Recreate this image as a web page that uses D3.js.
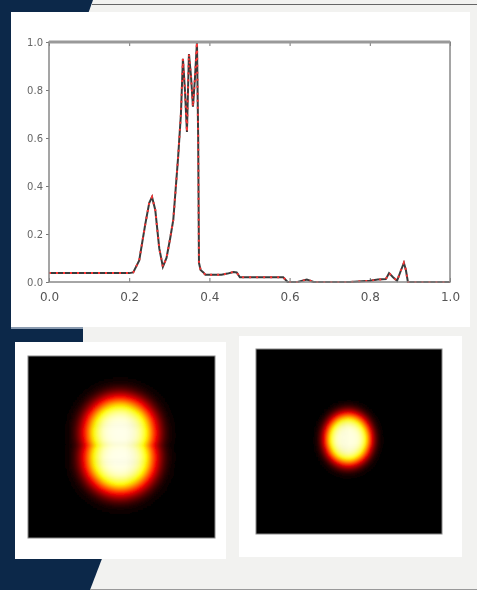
<!DOCTYPE html>
<html>
<head>
<meta charset="utf-8">
<script src="https://cdn.jsdelivr.net/npm/d3@7"></script>
<style>
  html, body { margin: 0; padding: 0; background: #f2f2f0; }
  svg { display: block; }
</style>
</head>
<body>
<div id="main-frame"></div>
<script>
// spectrum trace (x in 0..1, y in 0..1)
var traceX = [0.00, 0.05, 0.10, 0.15, 0.20, 0.21, 0.225, 0.24, 0.25, 0.257, 0.265, 0.275, 0.284, 0.293, 0.302,
              0.31, 0.322, 0.329, 0.334, 0.339, 0.344, 0.349, 0.354, 0.359, 0.364, 0.369, 0.372, 0.374, 0.378,
              0.385, 0.39, 0.40, 0.43, 0.445, 0.46, 0.468, 0.476, 0.50, 0.55, 0.584, 0.595, 0.62, 0.643, 0.66,
              0.70, 0.75, 0.80, 0.82, 0.84, 0.848, 0.858, 0.868, 0.878, 0.885, 0.89, 0.895, 0.90, 0.95, 1.00];
var traceY = [0.037, 0.037, 0.037, 0.037, 0.037, 0.04, 0.09, 0.24, 0.33, 0.354, 0.30, 0.14, 0.063, 0.10, 0.18,
              0.26, 0.52, 0.70, 0.93, 0.80, 0.625, 0.95, 0.86, 0.73, 0.85, 1.00, 0.60, 0.08, 0.05,
              0.04, 0.03, 0.03, 0.03, 0.035, 0.042, 0.04, 0.02, 0.02, 0.02, 0.02, 0.0, 0.0, 0.01, 0.0,
              0.0, 0.0, 0.005, 0.01, 0.012, 0.037, 0.02, 0.005, 0.05, 0.08, 0.05, 0.0, 0.0, 0.0, 0.0];
var xTicks = [0.0, 0.2, 0.4, 0.6, 0.8, 1.0];
var yTicks = [0.0, 0.2, 0.4, 0.6, 0.8, 1.0];

// intensity images on a 96x96 grid: soft discs (centre col, centre row, radius col, radius row, edge softness, peak)
var leftBlobs  = [[47.2, 40.6, 17.0, 17.5, 5.0, 0.98], [47.2, 53.8, 17.0, 17.5, 5.0, 0.98]];
var rightBlobs = [[47.5, 46.8, 11.2, 12.6, 3.0, 0.97]];
var gridSize = 96;

var W = 477, H = 590;
var navy = "#0c2849";

var svg = d3.select("#main-frame").append("svg")
  .attr("width", W)
  .attr("height", H);

var defs = svg.append("defs");
defs.append("filter").attr("id", "soft")
  .attr("x", "-5%").attr("y", "-5%").attr("width", "110%").attr("height", "110%")
  .append("feGaussianBlur").attr("stdDeviation", 0.7);
defs.append("filter").attr("id", "softer")
  .append("feGaussianBlur").attr("stdDeviation", 1.0);

// background slide
svg.append("rect").attr("width", W).attr("height", H).attr("fill", "#f2f2f0");
svg.append("polygon").attr("points", "0,0 93,0 88,14 0,14").attr("fill", navy);
svg.append("rect").attr("x", 0).attr("y", 0).attr("width", 15).attr("height", H).attr("fill", navy);
svg.append("rect").attr("x", 0).attr("y", 322).attr("width", 83).attr("height", 24).attr("fill", navy);
svg.append("polygon").attr("points", "0,556 103,556 90,590 0,590").attr("fill", navy);
svg.append("line").attr("x1", 92).attr("y1", 4.5).attr("x2", W).attr("y2", 4.5)
  .style("stroke", "#666").style("stroke-width", 1);
svg.append("line").attr("x1", 90).attr("y1", 589.5).attr("x2", W).attr("y2", 589.5)
  .style("stroke", "#999").style("stroke-width", 1);

// white panels
svg.append("rect").attr("x", 11).attr("y", 12).attr("width", 459).attr("height", 315).attr("fill", "#fff");
svg.append("rect").attr("x", 11).attr("y", 327).attr("width", 72).attr("height", 2).attr("fill", "#8a9bb0");
svg.append("rect").attr("x", 15).attr("y", 342).attr("width", 211).attr("height", 217).attr("fill", "#fff");
svg.append("rect").attr("x", 239).attr("y", 336).attr("width", 223).attr("height", 221).attr("fill", "#fff");

// ---- line chart ----
var chart = svg.append("g").attr("filter", "url(#soft)");
var x = d3.scaleLinear().domain([0, 1]).range([49, 450]);
var y = d3.scaleLinear().domain([0, 1]).range([282, 42]);

chart.append("g")
  .attr("transform", "translate(0,282)")
  .call(d3.axisBottom(x).tickValues(xTicks).tickFormat(d3.format(".1f")).tickSize(-4).tickPadding(10))
  .call(function(g) {
    g.select(".domain").remove();
    g.selectAll("line").style("stroke", "#777");
    g.selectAll("text").style("font-family", "DejaVu Sans").style("font-size", "12px").style("fill", "#555");
  });
chart.append("g")
  .attr("transform", "translate(0,42)")
  .call(d3.axisTop(x).tickValues(xTicks).tickFormat("").tickSize(-4))
  .call(function(g) {
    g.select(".domain").remove();
    g.selectAll("line").style("stroke", "#777");
  });
chart.append("g")
  .attr("transform", "translate(49,0)")
  .call(d3.axisLeft(y).tickValues(yTicks).tickFormat(d3.format(".1f")).tickSize(3).tickPadding(3))
  .call(function(g) {
    g.select(".domain").remove();
    g.selectAll("line").style("stroke", "#777");
    g.selectAll("text").style("font-family", "DejaVu Sans").style("font-size", "10px").style("fill", "#666");
  });

var pts = traceX.map(function(d, i) { return [d, traceY[i]]; });
var line = d3.line().x(function(d) { return x(d[0]); }).y(function(d) { return y(d[1]); });

chart.append("path").datum(pts)
  .attr("d", line)
  .attr("fill", "none")
  .style("stroke", "#3a3a3a")
  .style("stroke-width", 2);
chart.append("path").datum(pts)
  .attr("d", line)
  .attr("fill", "none")
  .style("stroke", "#ff3535")
  .style("stroke-width", 2)
  .style("stroke-dasharray", "2,5");

chart.append("rect")
  .attr("x", 49).attr("y", 42).attr("width", 401).attr("height", 240)
  .attr("fill", "none")
  .style("stroke", "#888")
  .style("stroke-width", 1.5);
chart.append("line").attr("x1", 49).attr("x2", 450).attr("y1", 42).attr("y2", 42)
  .style("stroke", "#999").style("stroke-width", 3);

// ---- heatmaps ----
var hot = d3.scaleLinear()
  .domain([0, 0.375, 0.75, 1])
  .range(["#000000", "#ff0000", "#ffff00", "#ffffff"])
  .clamp(true);

// Abramowitz-Stegun erf
function erf(z) {
  var s = z < 0 ? -1 : 1;
  z = Math.abs(z);
  var t = 1 / (1 + 0.3275911 * z);
  var p = t * (0.254829592 + t * (-0.284496736 + t * (1.421413741 + t * (-1.453152027 + t * 1.061405429))));
  return s * (1 - p * Math.exp(-z * z));
}

function drawHeat(blobs, x0, y0, w, h) {
  var cells = [];
  for (var r = 0; r < gridSize; r++) {
    for (var c = 0; c < gridSize; c++) {
      var v = 0;
      blobs.forEach(function(b) {
        var dx = (c + 0.5 - b[0]) / b[2], dy = (r + 0.5 - b[1]) / b[3];
        var rr = Math.sqrt(dx * dx + dy * dy) * b[2];
        v = Math.max(v, b[5] * 0.5 * (1 - erf((rr - b[2]) / (b[4] * Math.SQRT2))));
      });
      cells.push({ c: c, r: r, v: v });
    }
  }
  var cx = d3.scaleBand().domain(d3.range(gridSize)).range([x0, x0 + w]);
  var cy = d3.scaleBand().domain(d3.range(gridSize)).range([y0, y0 + h]);
  var g = svg.append("g");
  g.append("rect").attr("x", x0).attr("y", y0).attr("width", w).attr("height", h).attr("fill", "#000");
  g.append("g").attr("filter", "url(#softer)")
    .selectAll("rect").data(cells.filter(function(d) { return d.v > 0.01; })).enter()
    .append("rect")
    .attr("x", function(d) { return cx(d.c); })
    .attr("y", function(d) { return cy(d.r); })
    .attr("width", cx.bandwidth() + 0.6)
    .attr("height", cy.bandwidth() + 0.6)
    .attr("fill", function(d) { return hot(d.v); });
  g.append("rect").attr("x", x0).attr("y", y0).attr("width", w).attr("height", h)
    .attr("fill", "none").style("stroke", "#888").style("stroke-width", 1)
    .attr("filter", "url(#soft)");
}

drawHeat(leftBlobs, 28, 356, 187, 182);
drawHeat(rightBlobs, 256, 349, 186, 185);
</script>
</body>
</html>
